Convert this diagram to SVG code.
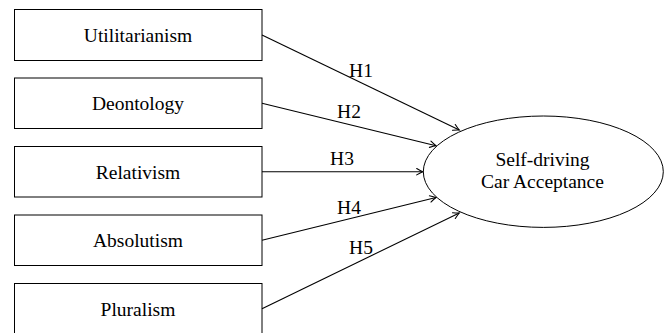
<svg xmlns="http://www.w3.org/2000/svg" width="667" height="333" viewBox="0 0 667 333">
<style>
  .box { fill: #fff; stroke: #000; stroke-width: 1; }
  .lbl { font-family: 'Liberation Serif', 'Times New Roman', serif; font-size: 19.5px; fill: #000; stroke: none; text-anchor: middle; }
  .edge { stroke: #000; stroke-width: 1.1; fill: none; marker-end: url(#arr); }
</style>
<defs>
  <marker id="arr" markerUnits="userSpaceOnUse" viewBox="-8 -5 10 10" refX="0" refY="0" markerWidth="10" markerHeight="10" orient="auto">
    <path d="M-6,-3.2 Q-2,-0.8 0,0 Q-2,0.8 -6,3.2" fill="none" stroke="#000" stroke-width="1.1" stroke-linecap="round"/>
  </marker>
</defs>
<rect width="667" height="333" fill="#fff"/>
<g id="utilitarianism">
  <rect class="box" x="14.5" y="9.5" width="247.5" height="51"/>
  <text class="lbl" x="138" y="42">Utilitarianism</text>
</g>
<g id="deontology">
  <rect class="box" x="14.5" y="78" width="247.5" height="50.5"/>
  <text class="lbl" x="138" y="110">Deontology</text>
</g>
<g id="relativism">
  <rect class="box" x="14.5" y="146.5" width="247.5" height="50.5"/>
  <text class="lbl" x="138" y="178.5">Relativism</text>
</g>
<g id="absolutism">
  <rect class="box" x="14.5" y="215" width="247.5" height="50.5"/>
  <text class="lbl" x="138" y="247">Absolutism</text>
</g>
<g id="pluralism">
  <rect class="box" x="14.5" y="283.5" width="247.5" height="51"/>
  <text class="lbl" x="138" y="315.5">Pluralism</text>
</g>
<g id="acceptance">
  <ellipse class="box" cx="543.3" cy="171.7" rx="120" ry="55.7"/>
  <text class="lbl" x="542.5" y="165.5">Self-driving</text>
  <text class="lbl" x="542.5" y="187.5">Car Acceptance</text>
</g>
<g id="connectors">
  <line class="edge" x1="262" y1="35" x2="459.3" y2="130"/>
  <line class="edge" x1="262" y1="103.2" x2="436" y2="145.7"/>
  <line class="edge" x1="262" y1="171.7" x2="422.7" y2="171.7"/>
  <line class="edge" x1="262" y1="240.3" x2="436" y2="197.5"/>
  <line class="edge" x1="262" y1="308.7" x2="459.3" y2="213"/>
  <text class="lbl" x="361" y="76.5">H1</text>
  <text class="lbl" x="349" y="117.5">H2</text>
  <text class="lbl" x="342" y="164.5">H3</text>
  <text class="lbl" x="349" y="213.5">H4</text>
  <text class="lbl" x="361" y="253.5">H5</text>
</g>
</svg>
